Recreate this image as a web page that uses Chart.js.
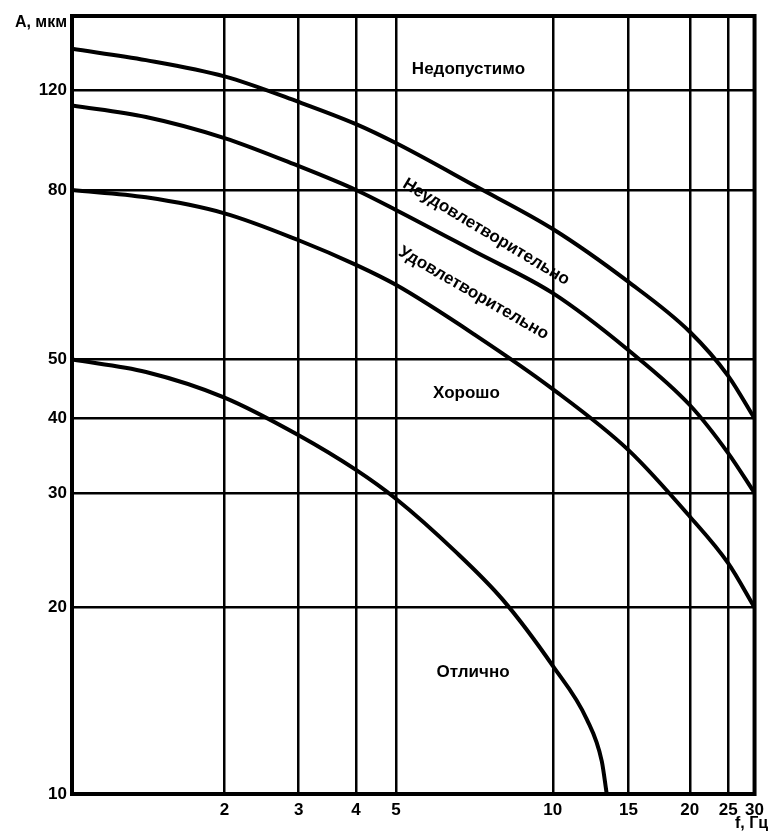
<!DOCTYPE html>
<html>
<head>
<meta charset="utf-8">
<script src="https://cdn.jsdelivr.net/npm/chart.js@4.4.0/dist/chart.umd.min.js"></script>
<style>
  html, body { margin: 0; padding: 0; background: #fff; }
  #wrap { width: 770px; height: 831px; }
</style>
</head>
<body>
<div id="wrap"><canvas id="chart" width="770" height="831"></canvas></div>
<script>
// tick labels
const freqTicks = [2, 3, 4, 5, 10, 15, 20, 25, 30]
const ampTicks = [10, 20, 30, 40, 50, 80, 120]

// zone boundaries, f in Hz, A in um
const curve1F = [1, 1.4, 2, 3, 4, 5, 7.1, 10, 15, 20, 25, 30]
const curve1A = [141, 135, 126.8, 114.6, 104.7, 96.9, 81.3, 71.8, 62, 54, 47, 40]

const curve2F = [1, 1.4, 2, 3, 4, 5, 7.1, 10, 15, 20, 25, 30]
const curve2A = [113, 107.8, 98.9, 88.2, 80, 75.7, 67.4, 60.1, 51.3, 42.1, 35, 30]

const curve3F = [1, 1.4, 2, 3, 4, 5, 7.1, 10, 15, 20, 25, 30]
const curve3A = [80, 78.4, 75, 69.6, 65, 61.5, 53.5, 44.7, 35.4, 27.6, 23.4, 20]

const curve4F = [1, 1.4, 2, 3, 4, 5, 6.5, 8, 10, 12, 13, 13.35]
const curve4A = [50, 47.7, 43.3, 37.5, 32.8, 29.4, 24.4, 20.6, 16.1, 13.2, 11.3, 10]

const zoneNames = ["Недопустимо", "Неудовлетворительно", "Удовлетворительно", "Хорошо", "Отлично"]

// the printed grid is not a true log grid, so every axis is stretched between its own stops
const xStops = {
  values: [1, 2, 3, 4, 5, 10, 15, 20, 25, 30],
  at: [0, 0.2234, 0.3321, 0.4161, 0.4745, 0.7044, 0.8153, 0.9051, 0.9613, 1]
}
const yStops = {
  values: [10, 20, 30, 40, 50, 80, 120, 160],
  at: [0, 0.2397, 0.3869, 0.4826, 0.5585, 0.7763, 0.904, 1]
}
const axisSetup = {
  x: { stops: xStops, ticks: freqTicks },
  y: { stops: yStops, ticks: ampTicks }
}

function toDecimal(stops, v) {
  const vs = stops.values, at = stops.at
  let i = 1
  while (i < vs.length - 1 && v > vs[i]) i++
  const t = Math.log(v / vs[i - 1]) / Math.log(vs[i] / vs[i - 1])
  return at[i - 1] + t * (at[i] - at[i - 1])
}

function fromDecimal(stops, d) {
  const vs = stops.values, at = stops.at
  let i = 1
  while (i < at.length - 1 && d > at[i]) i++
  const t = (d - at[i - 1]) / (at[i] - at[i - 1])
  return vs[i - 1] * Math.pow(vs[i] / vs[i - 1], t)
}

class StretchScale extends Chart.LinearScale {
  buildTicks() {
    this.start = this.min
    this.end = this.max
    return axisSetup[this.id].ticks.map((v) => ({ value: v }))
  }
  getPixelForValue(v) {
    if (v === null || v === undefined || isNaN(v)) return NaN
    return this.getPixelForDecimal(toDecimal(axisSetup[this.id].stops, v))
  }
  getValueForPixel(p) {
    return fromDecimal(axisSetup[this.id].stops, this.getDecimalForPixel(p))
  }
}
StretchScale.id = 'stretch'
StretchScale.defaults = {}
Chart.register(StretchScale)

const FONT = '"Liberation Sans", Arial, sans-serif'

// where the zone names sit (in data units) and how they are turned
const zoneSpots = [
  { f: 6.89, a: 130.5, angle: 0 },
  { f: 7.45, a: 71.2, angle: 31 },
  { f: 7.05, a: 60.1, angle: 30 },
  { f: 6.83, a: 44, angle: 0 },
  { f: 7.03, a: 15.7, angle: 0 }
]

const labelsPlugin = {
  id: 'zoneLabels',
  afterDraw(chart) {
    const ctx = chart.ctx
    const { left, top, right, bottom } = chart.chartArea
    const xs = chart.scales.x, ys = chart.scales.y

    ctx.save()
    ctx.strokeStyle = '#000'
    ctx.lineWidth = 4
    ctx.strokeRect(left, top, right - left, bottom - top)

    ctx.fillStyle = '#000'
    ctx.font = 'bold 17px ' + FONT
    ctx.textAlign = 'center'
    ctx.textBaseline = 'middle'
    zoneNames.forEach((name, i) => {
      const s = zoneSpots[i]
      ctx.save()
      ctx.translate(xs.getPixelForValue(s.f), ys.getPixelForValue(s.a))
      ctx.rotate(s.angle * Math.PI / 180)
      ctx.fillText(name, 0, 0)
      ctx.restore()
    })

    ctx.font = 'bold 16px ' + FONT
    ctx.textAlign = 'right'
    ctx.fillText('A, мкм', left - 5, top + 7)
    ctx.textAlign = 'center'
    ctx.fillText('f, Гц', xs.getPixelForValue(30) - 3, bottom + 30)
    ctx.restore()
  }
}

function makeSet(fs, as) {
  return {
    data: fs.map((f, i) => ({ x: f, y: as[i] })),
    borderColor: '#000',
    borderWidth: 4,
    pointRadius: 0,
    fill: false,
    cubicInterpolationMode: 'monotone'
  }
}

const ctx = document.querySelector('#chart').getContext('2d')
const chart = new Chart(ctx, {
  type: 'line',
  data: {
    datasets: [
      makeSet(curve1F, curve1A),
      makeSet(curve2F, curve2A),
      makeSet(curve3F, curve3A),
      makeSet(curve4F, curve4A)
    ]
  },
  options: {
    responsive: false,
    animation: false,
    layout: { padding: { top: 16, right: 13, left: 0, bottom: 0 } },
    plugins: { legend: { display: false }, tooltip: { enabled: false } },
    scales: {
      x: {
        type: 'stretch',
        min: 1,
        max: 30,
        border: { display: false },
        grid: { color: '#000', lineWidth: 2.5, drawTicks: false },
        ticks: {
          autoSkip: false,
          maxRotation: 0,
          padding: 6,
          color: '#000',
          font: { family: FONT, size: 17, weight: 'bold' },
          callback: (v) => String(v)
        },
        afterFit: (scale) => { scale.height = 37 }
      },
      y: {
        type: 'stretch',
        min: 10,
        max: 160,
        border: { display: false },
        grid: { color: '#000', lineWidth: 2.5, drawTicks: false },
        ticks: {
          autoSkip: false,
          padding: 5,
          color: '#000',
          font: { family: FONT, size: 17, weight: 'bold' },
          callback: (v) => String(v)
        },
        afterFit: (scale) => { scale.width = 72 }
      }
    }
  },
  plugins: [labelsPlugin]
})
</script>
</body>
</html>
